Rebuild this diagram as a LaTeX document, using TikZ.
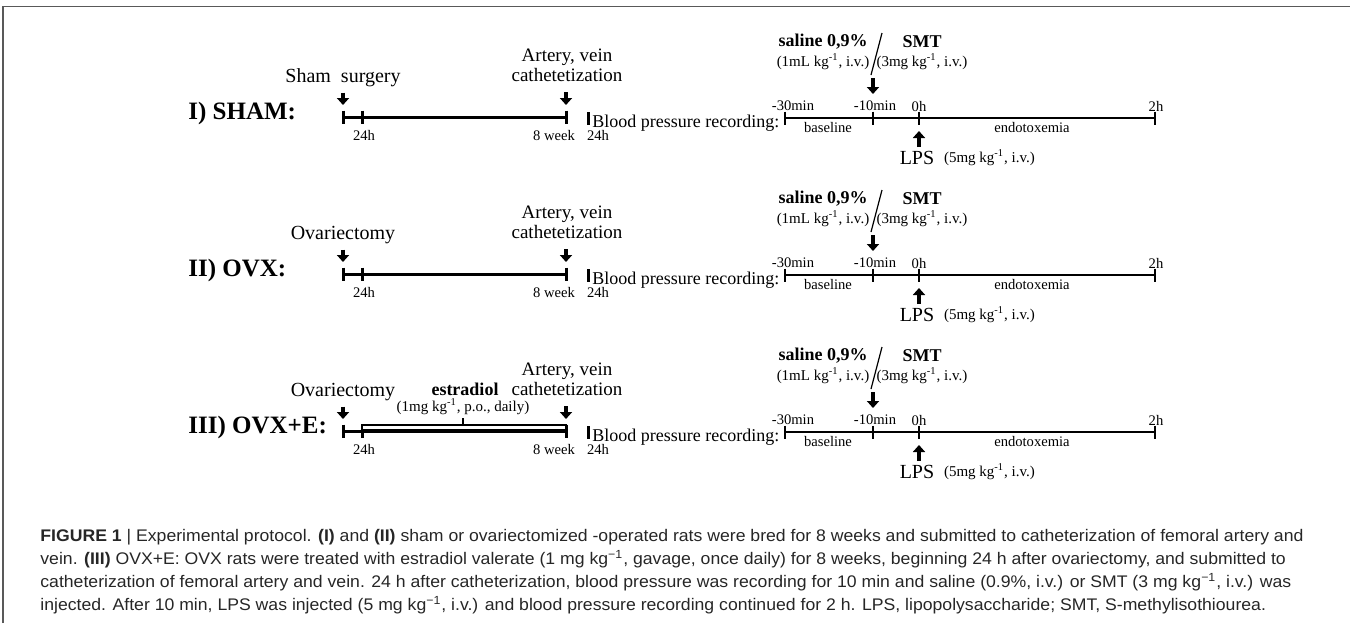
\documentclass[tikz,border=0pt]{standalone}
\usepackage{fontspec}
\setmainfont{Liberation Serif}
\newfontfamily\capfont[FakeStretch=1.05]{Liberation Sans}
\usetikzlibrary{positioning,arrows.meta,calc}

\begin{document}
\begin{tikzpicture}[
    x=0.5pt,
    y=-0.5pt,
    inner sep=0pt,
    rowlab/.style={anchor=west, font=\fontsize{12.5}{14}\selectfont\bfseries},
    evlab/.style={align=center, font=\fontsize{10}{10}\selectfont},
    cathlab/.style={align=center, font=\fontsize{9.5}{10}\selectfont},
    bplab/.style={anchor=west, font=\fontsize{9}{10}\selectfont},
    ticklab/.style={font=\fontsize{7.3}{8}\selectfont},
    drug/.style={font=\fontsize{9}{10}\selectfont\bfseries},
    dose/.style={font=\fontsize{7.5}{8}\selectfont},
    tlbar/.style={line width=1.5pt},
    tlaxis/.style={line width=0.7pt},
    evarrow/.style={-{Triangle[length=3.5pt,width=6pt]}, line width=2.4pt},
    framerule/.style={draw=black!65, line width=0.8pt},
    capnode/.style={anchor=north west, align=left, text=black!85,
        font=\capfont\fontsize{8.4}{11.5}\selectfont}
]
\useasboundingbox (0,0) rectangle (1350,623);

% ============================================================
% RAMKA
% ============================================================
\draw[framerule] (3,623) -- (3,6.5) -- (1350,6.5);

% ============================================================
% TRZY GRUPY (I, II, III)
% ============================================================
\foreach \r/\dy/\lab/\op in {1/0/{I) SHAM:}/{Sham\ \ surgery},
                             2/157/{II) OVX:}/{Ovariectomy},
                             3/314/{III) OVX+E:}/{Ovariectomy}} {
\begin{scope}[shift={(0,\dy)}]
    % os czasu przed pomiarem
    \coordinate (s\r) at (343,117);
    \coordinate (h\r) at (362,117);
    \coordinate (w\r) at (566,117);
    \coordinate (bp\r) at (588,118);
    \draw[tlbar] (s\r) -- (w\r);
    \foreach \p in {s,h,w}
        \draw[tlbar] (\p\r) ++(0,-6.5) -- ++(0,13);
    \draw[tlbar] (bp\r) ++(0,-6) -- ++(0,13);

    \node[rowlab] (lab\r) at (188,113) {\lab};
    \node[evlab, anchor=base] (op\r) at (343,82) {\op};
    \node[cathlab, anchor=south] (cath\r) at (567,82) {Artery, vein\\cathetetization};
    \draw[evarrow, shorten <=3pt, shorten >=6pt] (op\r.south -| s\r) -- (s\r);
    \draw[evarrow, shorten <=5pt, shorten >=6pt] (cath\r.south -| w\r) -- (w\r);

    \node[ticklab] (lh\r) at (364,135) {24h};
    \node[ticklab] (lw\r) at (554,135) {8 week};
    \node[ticklab] (lbp\r) at (598,135) {24h};
    \node[bplab] (bpr\r) at (592,123) {Blood pressure recording:};

    % os czasu pomiaru cisnienia
    \coordinate (m30\r) at (785,118);
    \coordinate (m10\r) at (873,118);
    \coordinate (z\r) at (919,118);
    \coordinate (e2\r) at (1155,118);
    \draw[tlaxis] (m30\r) -- (e2\r);
    \foreach \p in {m30,m10,z,e2}
        \draw[tlaxis] (\p\r) ++(0,-6.5) -- ++(0,13);

    \node[ticklab] (lm30\r) at (793,106) {-30min};
    \node[ticklab] (lm10\r) at (875,106) {-10min};
    \node[ticklab] (lz\r) at (919,106) {0h};
    \node[ticklab] (le2\r) at (1156,106) {2h};
    \node[ticklab] (base\r) at (828,127) {baseline};
    \node[ticklab] (endo\r) at (1032,127) {endotoxemia};

    % saline / SMT
    \node[drug] (sal\r) at (823,42) {saline 0,9\%};
    \node[dose] (sald\r) at (823,62) {(1mL kg\textsuperscript{-1}, i.v.)};
    \node[drug] (smt\r) at (922,42) {SMT};
    \node[dose] (smtd\r) at (922,62) {(3mg kg\textsuperscript{-1}, i.v.)};
    \draw[line width=0.6pt] (882,33) -- (871,75);
    \draw[evarrow] (m10\r) ++(0,-40) -- ++(0,16);

    % LPS
    \node[evlab] (lps\r) at (917,158) {LPS};
    \node[dose, right=4.5pt of lps\r] (lpsd\r) {(5mg kg\textsuperscript{-1}, i.v.)};
    \draw[evarrow] (z\r) ++(0,29) -- ++(0,-16);
\end{scope}
}

% ============================================================
% ESTRADIOL (GRUPA III)
% ============================================================
\draw[line width=0.6pt, fill=white] (362,425) rectangle (566,430);
\draw[line width=0.6pt] (463,425) -- (463,418);
\node[drug] (est) at (465,389) {estradiol};
\node[dose] (estd) at (463,407) {(1mg kg\textsuperscript{-1}, p.o., daily)};

% ============================================================
% PODPIS
% ============================================================
\node[capnode] (cap) at (40,529) {\textbf{FIGURE 1} | Experimental protocol. \textbf{(I)} and \textbf{(II)} sham or ovariectomized -operated rats were bred for 8 weeks and submitted to catheterization of femoral artery and\\
vein. \textbf{(III)} OVX+E: OVX rats were treated with estradiol valerate (1 mg kg\textsuperscript{−1}, gavage, once daily) for 8 weeks, beginning 24 h after ovariectomy, and submitted to\\
catheterization of femoral artery and vein. 24 h after catheterization, blood pressure was recording for 10 min and saline (0.9\%, i.v.) or SMT (3 mg kg\textsuperscript{−1}, i.v.) was\\
injected. After 10 min, LPS was injected (5 mg kg\textsuperscript{−1}, i.v.) and blood pressure recording continued for 2 h. LPS, lipopolysaccharide; SMT, S-methylisothiourea.};

\end{tikzpicture}
\end{document}
